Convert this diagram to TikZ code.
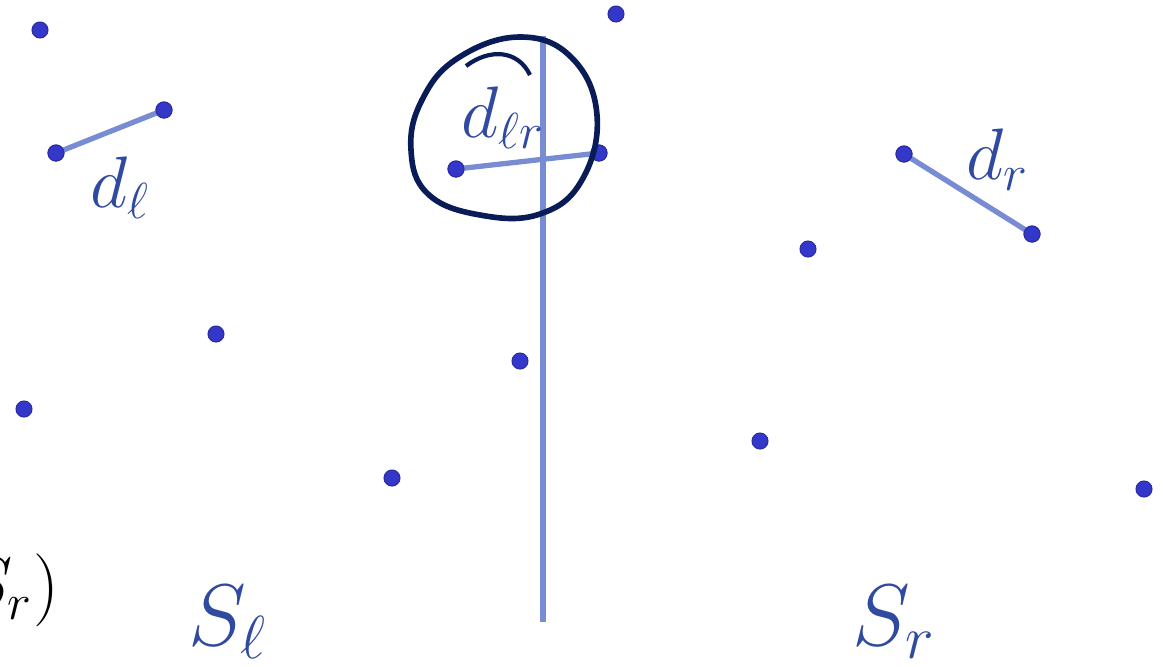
\documentclass[tikz,border=0pt]{standalone}
\usepackage{amsmath}
\definecolor{dotblue}{RGB}{52,56,200}
\definecolor{segblue}{RGB}{120,140,212}
\definecolor{lblblue}{RGB}{48,74,160}
\definecolor{navy}{RGB}{10,28,88}
\tikzset{
  pt/.style={circle,fill=dotblue,draw=dotblue!80!black,line width=0.3pt,inner sep=0pt,minimum size=0.16cm},
  seg/.style={draw=segblue,line width=1.5pt},
  lbl/.style={text=lblblue,inner sep=0pt,font=\fontsize{22}{24}\selectfont},
  slbl/.style={text=lblblue,inner sep=0pt,font=\fontsize{23}{25}\selectfont},
}
\begin{document}
\begin{tikzpicture}[x=0.01cm,y=-0.01cm]
\useasboundingbox (0,0) rectangle (1163,666);
% dividing line
\coordinate (vtop) at (543,36);
\coordinate (vbot) at (543,622);
\draw[seg] (vtop) -- (vbot);
% points
\node[pt] (p1) at (40,30) {};
\node[pt] (p2) at (164,110) {};
\node[pt] (p3) at (56,153) {};
\node[pt] (p4) at (216,334) {};
\node[pt] (p5) at (24,409) {};
\node[pt] (p6) at (392,478) {};
\node[pt] (p7) at (616,14) {};
\node[pt] (p8) at (456,169) {};
\node[pt] (p9) at (599,153) {};
\node[pt] (p10) at (520,361) {};
\node[pt] (p11) at (904,154) {};
\node[pt] (p12) at (1032,234) {};
\node[pt] (p13) at (808,249) {};
\node[pt] (p14) at (760,441) {};
\node[pt] (p15) at (1144,489) {};
% segments
\draw[seg] (p3.center) -- (p2.center);
\draw[seg] (p8.center) -- (p9.center);
\draw[seg] (p11.center) -- (p12.center);
% redraw endpoints on top
\foreach \p in {p2,p3,p8,p9,p11,p12}{\node[pt] at (\p) {};}
% labels
\node[lbl] (dl) at (120,188) {$d_\ell$};
\node[lbl] (dlr) at (503,118) {$d_{\ell r}$};
\node[lbl] (dr) at (998,160) {$d_r$};
\node[slbl] (sl) at (228,622) {$S_\ell$};
\node[slbl] (sr) at (894,622) {$S_r$};
\node[inner sep=0pt,anchor=east,font=\fontsize{20}{22}\selectfont] (cut) at (60,590) {$S_r)$};
% hand-drawn loop
\draw[navy,line width=1.6pt] plot[smooth cycle,tension=0.7] coordinates {
  (520,37) (572,58) (597,115) (582,180) (540,214) (480,215) (428,194) (411,150) (422,100) (458,58)};
\draw[navy,line width=1.2pt] (466,66) .. controls (490,48) and (518,50) .. (530,75);
\end{tikzpicture}
\end{document}
